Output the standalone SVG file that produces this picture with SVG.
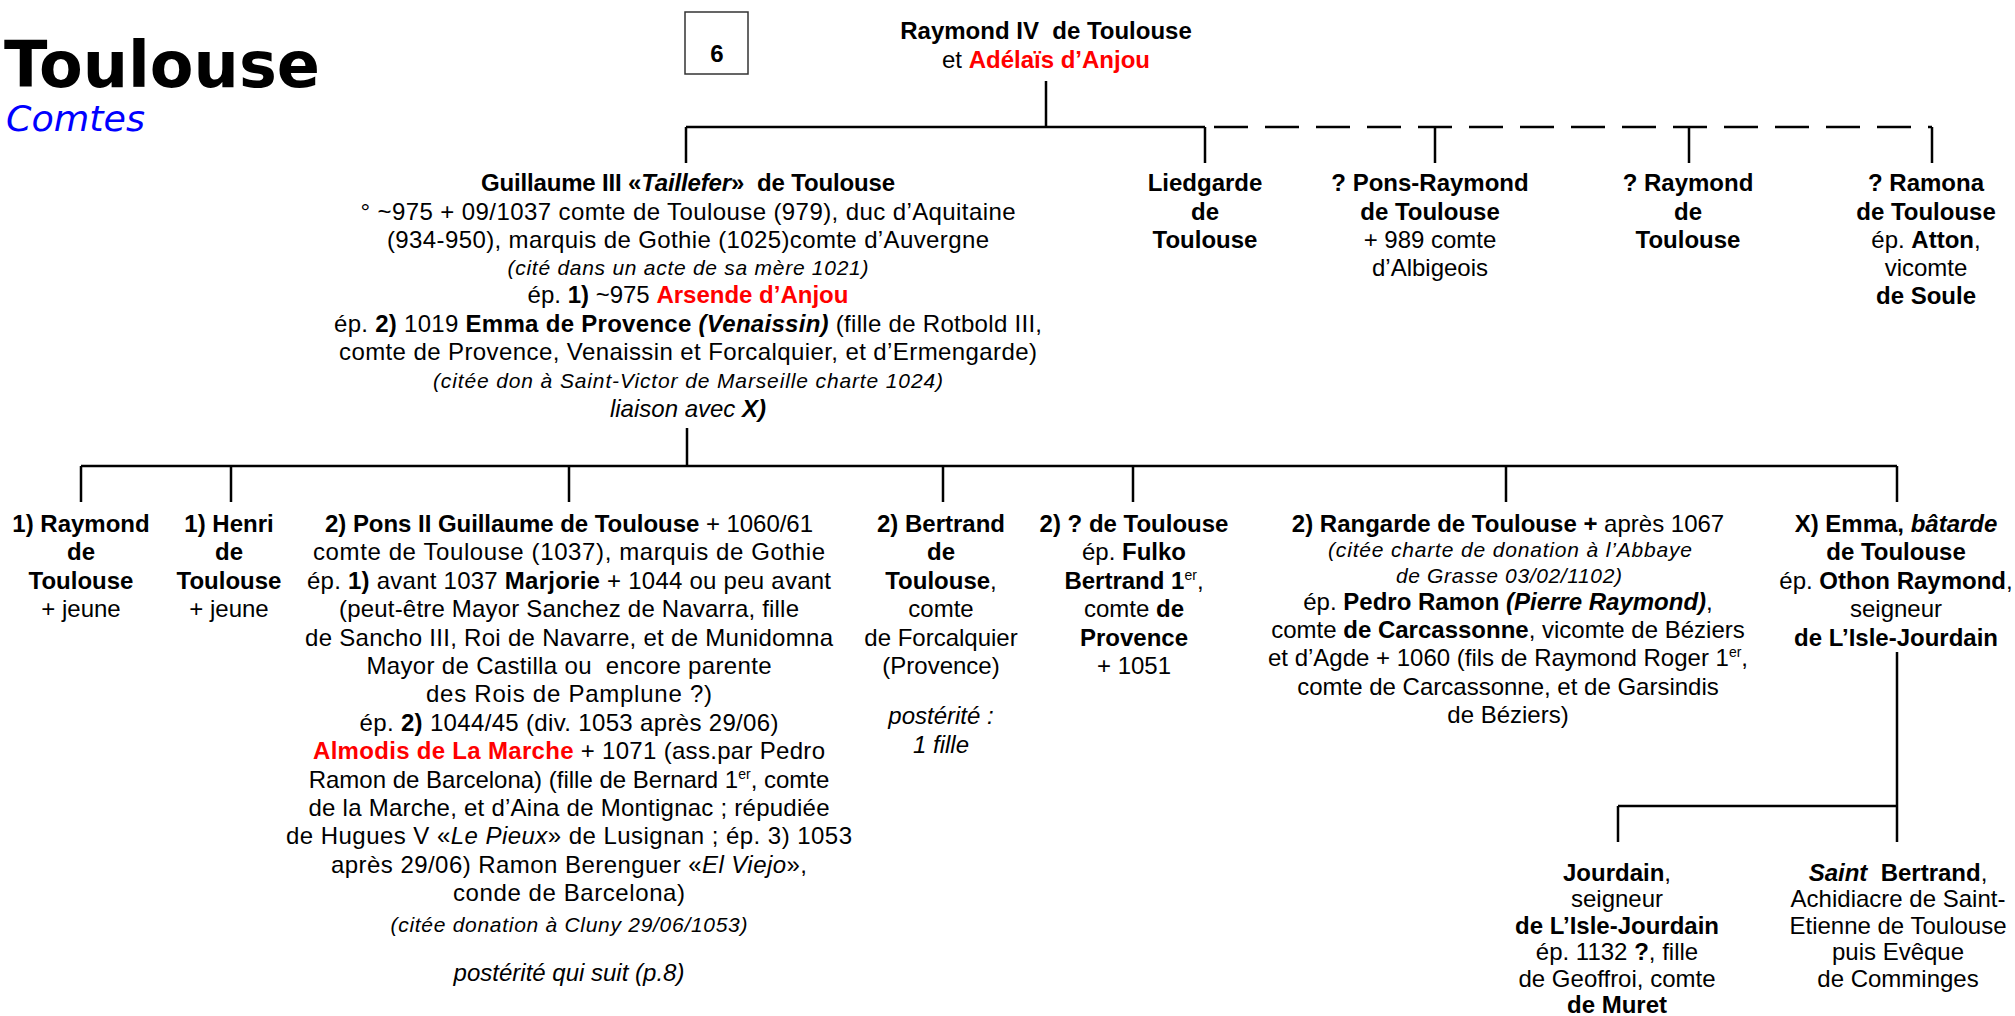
<svg xmlns="http://www.w3.org/2000/svg" width="2015" height="1016" viewBox="0 0 2015 1016">
<style>
.t{font-family:"Liberation Sans",Arial,sans-serif;font-size:24px;fill:#000;text-anchor:middle}
.b{font-weight:bold}
.i{font-style:italic}
.s{font-size:21px;font-style:italic}
.r{fill:#FF0000}
.sup{font-size:14px}
.ln{stroke:#000;stroke-width:2.5;fill:none}
.dash{stroke-dasharray:34 17}
</style>
<rect width="2015" height="1016" fill="#fff"/>
<g id="title">
<text x="4" y="87" font-family="'DejaVu Sans',Verdana,sans-serif" font-weight="bold" font-size="64" textLength="316" lengthAdjust="spacingAndGlyphs">Toulouse</text>
<text x="6" y="131" font-family="'DejaVu Sans',Verdana,sans-serif" font-style="italic" font-size="36" textLength="139" lengthAdjust="spacingAndGlyphs" fill="#0000FF">Comtes</text>
</g>
<g id="page">
<rect x="685" y="12" width="63" height="62" fill="none" stroke="#333" stroke-width="1.5"/>
<text class="t b" x="717" y="62" font-size="28">6</text>
</g>
<g id="connectors">
<path class="ln" d="M1046 81V127M686 127H1205M686 127V163M1205 127V163"/>
<path class="ln dash" d="M1214 127H1932"/>
<path class="ln" d="M1435 127V163M1689 127V163M1932 127V163"/>
<path class="ln" d="M687 428V466M81 466H1897M81 466V502M231 466V502M569 466V502M943 466V502M1133 466V502M1506 466V502M1897 466V502"/>
<path class="ln" d="M1897 652V842M1618 806H1897M1618 806V842"/>
</g>
<g id="n-raymond-iv">
<text class="t b" x="1046" y="39">Raymond IV&#160; de Toulouse</text>
<text class="t" x="1046" y="68">et <tspan class="b r">Adélaïs d’Anjou</tspan></text>
</g>
<g id="n-guillaume">
<text class="t b" x="688" y="191" textLength="414">Guillaume III «<tspan class="i">Taillefer</tspan>»&#160; de Toulouse</text>
<text class="t" x="688" y="220" textLength="655">° ~975 + 09/1037 comte de Toulouse (979), duc d’Aquitaine</text>
<text class="t" x="688" y="248" textLength="602">(934-950), marquis de Gothie (1025)comte d’Auvergne</text>
<text class="t s" x="688" y="275" textLength="361">(cité dans un acte de sa mère 1021)</text>
<text class="t" x="688" y="303">ép. <tspan class="b">1)</tspan> ~975 <tspan class="b r">Arsende d’Anjou</tspan></text>
<text class="t" x="688" y="332" textLength="708">ép. <tspan class="b">2)</tspan> 1019 <tspan class="b">Emma de Provence <tspan class="i">(Venaissin)</tspan></tspan> (fille de Rotbold III,</text>
<text class="t" x="688" y="360" textLength="698">comte de Provence, Venaissin et Forcalquier, et d’Ermengarde)</text>
<text class="t s" x="688" y="388" textLength="510">(citée don à Saint-Victor de Marseille charte 1024)</text>
<text class="t i" x="688" y="417">liaison avec <tspan class="b">X)</tspan></text>
</g>
<g id="n-liedgarde">
<text class="t b" x="1205" y="191">Liedgarde</text>
<text class="t b" x="1205" y="220">de</text>
<text class="t b" x="1205" y="248">Toulouse</text>
</g>
<g id="n-pons-raymond">
<text class="t b" x="1430" y="191">? Pons-Raymond</text>
<text class="t b" x="1430" y="220">de Toulouse</text>
<text class="t" x="1430" y="248">+ 989 comte</text>
<text class="t" x="1430" y="276">d’Albigeois</text>
</g>
<g id="n-raymond">
<text class="t b" x="1688" y="191">? Raymond</text>
<text class="t b" x="1688" y="220">de</text>
<text class="t b" x="1688" y="248">Toulouse</text>
</g>
<g id="n-ramona">
<text class="t b" x="1926" y="191">? Ramona</text>
<text class="t b" x="1926" y="220">de Toulouse</text>
<text class="t" x="1926" y="248">ép. <tspan class="b">Atton</tspan>,</text>
<text class="t" x="1926" y="276">vicomte</text>
<text class="t b" x="1926" y="304">de Soule</text>
</g>
<g id="n-raymond-1">
<text class="t b" x="81" y="532">1) Raymond</text>
<text class="t b" x="81" y="560">de</text>
<text class="t b" x="81" y="589">Toulouse</text>
<text class="t" x="81" y="617">+ jeune</text>
</g>
<g id="n-henri">
<text class="t b" x="229" y="532">1) Henri</text>
<text class="t b" x="229" y="560">de</text>
<text class="t b" x="229" y="589">Toulouse</text>
<text class="t" x="229" y="617">+ jeune</text>
</g>
<g id="n-pons-ii">
<text class="t" x="569" y="532" textLength="488"><tspan class="b">2) Pons II Guillaume de Toulouse</tspan> + 1060/61</text>
<text class="t" x="569" y="560" textLength="512">comte de Toulouse (1037), marquis de Gothie</text>
<text class="t" x="569" y="589" textLength="524">ép. <tspan class="b">1)</tspan> avant 1037 <tspan class="b">Marjorie</tspan> + 1044 ou peu avant</text>
<text class="t" x="569" y="617" textLength="460">(peut-être Mayor Sanchez de Navarra, fille</text>
<text class="t" x="569" y="646" textLength="528">de Sancho III, Roi de Navarre, et de Munidomna</text>
<text class="t" x="569" y="674" textLength="405">Mayor de Castilla ou&#160; encore parente</text>
<text class="t" x="569" y="702" textLength="286">des Rois de Pamplune ?)</text>
<text class="t" x="569" y="731" textLength="419">ép. <tspan class="b">2)</tspan> 1044/45 (div. 1053 après 29/06)</text>
<text class="t" x="569" y="759" textLength="512"><tspan class="b r">Almodis de La Marche</tspan> + 1071 (ass.par Pedro</text>
<text class="t" x="569" y="788">Ramon de Barcelona) (fille de Bernard 1<tspan class="sup" dy="-9">er</tspan><tspan dy="9">, comte</tspan></text>
<text class="t" x="569" y="816" textLength="521">de la Marche, et d’Aina de Montignac ; répudiée</text>
<text class="t" x="569" y="844" textLength="566">de Hugues V «<tspan class="i">Le Pieux</tspan>» de Lusignan ; ép. 3) 1053</text>
<text class="t" x="569" y="873" textLength="476">après 29/06) Ramon Berenguer «<tspan class="i">El Viejo</tspan>»,</text>
<text class="t" x="569" y="901" textLength="232">conde de Barcelona)</text>
<text class="t s" x="569" y="932" textLength="357">(citée donation à Cluny 29/06/1053)</text>
<text class="t i" x="569" y="981">postérité qui suit (p.8)</text>
</g>
<g id="n-bertrand">
<text class="t b" x="941" y="532">2) Bertrand</text>
<text class="t b" x="941" y="560">de</text>
<text class="t" x="941" y="589"><tspan class="b">Toulouse</tspan>,</text>
<text class="t" x="941" y="617">comte</text>
<text class="t" x="941" y="646">de Forcalquier</text>
<text class="t" x="941" y="674">(Provence)</text>
<text class="t i" x="941" y="724">postérité :</text>
<text class="t i" x="941" y="753">1 fille</text>
</g>
<g id="n-fulko">
<text class="t b" x="1134" y="532">2) ? de Toulouse</text>
<text class="t" x="1134" y="560">ép. <tspan class="b">Fulko</tspan></text>
<text class="t" x="1134" y="589"><tspan class="b">Bertrand 1</tspan><tspan class="sup" dy="-9">er</tspan><tspan dy="9">,</tspan></text>
<text class="t" x="1134" y="617">comte <tspan class="b">de</tspan></text>
<text class="t b" x="1134" y="646">Provence</text>
<text class="t" x="1134" y="674">+ 1051</text>
</g>
<g id="n-rangarde">
<text class="t" x="1508" y="532"><tspan class="b">2) Rangarde de Toulouse +</tspan> après 1067</text>
<text class="t s" x="1510" y="557" textLength="364">(citée charte de donation à l’Abbaye</text>
<text class="t s" x="1509" y="583" textLength="226">de Grasse 03/02/1102)</text>
<text class="t" x="1508" y="610">ép. <tspan class="b">Pedro Ramon <tspan class="i">(Pierre Raymond)</tspan></tspan>,</text>
<text class="t" x="1508" y="638">comte <tspan class="b">de Carcassonne</tspan>, vicomte de Béziers</text>
<text class="t" x="1508" y="666">et d’Agde + 1060 (fils de Raymond Roger 1<tspan class="sup" dy="-9">er</tspan><tspan dy="9">,</tspan></text>
<text class="t" x="1508" y="695">comte de Carcassonne, et de Garsindis</text>
<text class="t" x="1508" y="723">de Béziers)</text>
</g>
<g id="n-emma">
<text class="t b" x="1896" y="532">X) Emma, <tspan class="i">bâtarde</tspan></text>
<text class="t b" x="1896" y="560">de Toulouse</text>
<text class="t" x="1896" y="589">ép. <tspan class="b">Othon Raymond</tspan>,</text>
<text class="t" x="1896" y="617">seigneur</text>
<text class="t b" x="1896" y="646">de L’Isle-Jourdain</text>
</g>
<g id="n-jourdain">
<text class="t" x="1617" y="881"><tspan class="b">Jourdain</tspan>,</text>
<text class="t" x="1617" y="907">seigneur</text>
<text class="t b" x="1617" y="934">de L’Isle-Jourdain</text>
<text class="t" x="1617" y="960">ép. 1132 <tspan class="b">?</tspan>, fille</text>
<text class="t" x="1617" y="987">de Geoffroi, comte</text>
<text class="t b" x="1617" y="1013">de Muret</text>
</g>
<g id="n-saint-bertrand">
<text class="t" x="1898" y="881"><tspan class="b i">Saint</tspan>&#160; <tspan class="b">Bertrand</tspan>,</text>
<text class="t" x="1898" y="907">Achidiacre de Saint-</text>
<text class="t" x="1898" y="934">Etienne de Toulouse</text>
<text class="t" x="1898" y="960">puis Evêque</text>
<text class="t" x="1898" y="987">de Comminges</text>
</g>
</svg>
